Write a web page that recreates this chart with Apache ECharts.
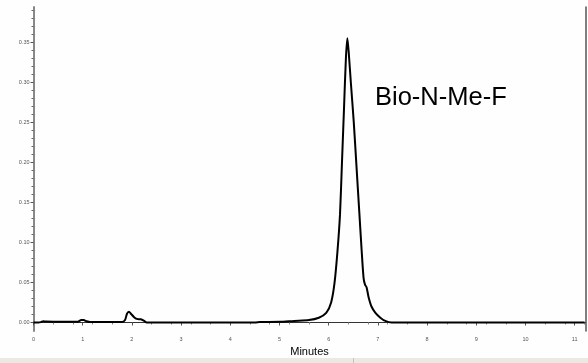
<!DOCTYPE html>
<html>
<head>
<meta charset="utf-8">
<script src="https://cdn.jsdelivr.net/npm/echarts@6/dist/echarts.min.js"></script>
<style>
  html, body { margin: 0; padding: 0; background: #fefefe; }
  #chart { width: 588px; height: 363px; }
</style>
</head>
<body>
<div id="chart"></div>
<script>
// Chromatogram trace: retention time (min) and detector response (AU)
const times = [
  0.00, 0.10, 0.15, 0.20, 0.25, 0.40, 0.90, 0.97, 1.02, 1.08, 1.15,
  1.80, 1.86, 1.90, 1.94, 1.98, 2.04, 2.10, 2.18, 2.25, 2.30,
  4.50, 4.60, 5.00, 5.30, 5.60, 5.80, 5.95, 6.05, 6.12, 6.18, 6.23,
  6.27, 6.31, 6.35, 6.38, 6.41, 6.45, 6.51, 6.57, 6.62, 6.67, 6.71,
  6.74, 6.77, 6.81, 6.87, 6.95, 7.05, 7.15, 7.28, 11.20
];
const response = [
  0.0000, 0.0000, 0.0005, 0.0015, 0.0012, 0.0010, 0.0010, 0.0030, 0.0030, 0.0015, 0.0005,
  0.0005, 0.0030, 0.0110, 0.0135, 0.0110, 0.0070, 0.0045, 0.0040, 0.0020, 0.0000,
  0.0000, 0.0005, 0.0008, 0.0020, 0.0030, 0.0060, 0.0120, 0.0250, 0.0500, 0.0900, 0.1350,
  0.2000, 0.2650, 0.3300, 0.3550, 0.3350, 0.3000, 0.2500, 0.1900, 0.1400, 0.0900, 0.0550,
  0.0470, 0.0440, 0.0320, 0.0200, 0.0120, 0.0060, 0.0020, 0.0000, 0.0000
];

// Axis tick positions
const xTicks = [0, 1, 2, 3, 4, 5, 6, 7, 8, 9, 10, 11];
const yMajorTicks = [0.00, 0.05, 0.10, 0.15, 0.20, 0.25, 0.30, 0.35];
const yMinorTicks = [
  0.01, 0.02, 0.03, 0.04, 0.06, 0.07, 0.08, 0.09, 0.11, 0.12, 0.13, 0.14,
  0.16, 0.17, 0.18, 0.19, 0.21, 0.22, 0.23, 0.24, 0.26, 0.27, 0.28, 0.29,
  0.31, 0.32, 0.33, 0.34, 0.36, 0.37, 0.38, 0.39
];
const peakName = 'Bio-N-Me-F';
const xName = 'Minutes';

const Y_MIN = -0.0106, Y_MAX = 0.394;
const X_MIN = 0, X_MAX = 11.22;

const chart = echarts.init(document.getElementById('chart'), null, { renderer: 'canvas' });

const tickFont = { fontSize: 5.5, color: '#555', fontFamily: 'Liberation Sans, Arial, sans-serif' };

chart.setOption({
  animation: false,
  backgroundColor: '#fefefe',
  grid: { left: 33.5, right: 2.5, top: 7, bottom: 32, containLabel: false },
  title: {
    text: peakName,
    left: 370,
    top: 80,
    textStyle: { fontSize: 25.5, fontWeight: 'normal', color: '#000', fontFamily: 'Liberation Sans, Arial, sans-serif' }
  },
  xAxis: {
    type: 'value',
    min: X_MIN,
    max: X_MAX,
    name: xName,
    nameLocation: 'middle',
    nameGap: 14,
    nameTextStyle: { fontSize: 11, color: '#000', fontFamily: 'Liberation Sans, Arial, sans-serif' },
    axisLine: { show: true, lineStyle: { color: '#333', width: 1 } },
    axisTick: { show: true, length: 3, lineStyle: { color: '#555' }, customValues: xTicks },
    minorTick: { show: true, splitNumber: 5, length: 2, lineStyle: { color: '#888' } },
    axisLabel: { margin: 5, customValues: xTicks, formatter: v => String(v), ...tickFont },
    splitLine: { show: false },
    minorSplitLine: { show: false }
  },
  yAxis: [
    {
      type: 'value',
      min: Y_MIN,
      max: Y_MAX,
      position: 'left',
      axisLine: { show: true, lineStyle: { color: '#888', width: 2 } },
      axisTick: { show: true, length: 3, lineStyle: { color: '#555' }, customValues: yMajorTicks },
      axisLabel: { margin: 4, customValues: yMajorTicks, formatter: v => v.toFixed(2), ...tickFont },
      splitLine: { show: false }
    },
    {
      type: 'value',
      min: Y_MIN,
      max: Y_MAX,
      position: 'left',
      axisLine: { show: false },
      axisTick: { show: true, length: 2, lineStyle: { color: '#666' }, customValues: yMinorTicks },
      axisLabel: { show: false },
      splitLine: { show: false }
    },
    {
      type: 'value',
      min: Y_MIN,
      max: Y_MAX,
      position: 'right',
      axisLine: { show: true, lineStyle: { color: '#555', width: 1.5 } },
      axisTick: { show: false },
      axisLabel: { show: false },
      splitLine: { show: false }
    }
  ],
  series: [{
    type: 'line',
    yAxisIndex: 0,
    data: times.map((t, i) => [t, response[i]]),
    showSymbol: false,
    smooth: 0.25,
    lineStyle: { color: '#000', width: 2 },
    clip: true
  }],
  graphic: [
    // status strip along the bottom of the window
    { type: 'rect', left: 0, top: 358, shape: { width: 588, height: 5 }, style: { fill: '#ece9e2' }, silent: true },
    { type: 'rect', left: 353, top: 358, shape: { width: 1, height: 5 }, style: { fill: '#c8c5bd' }, silent: true }
  ]
});
</script>
</body>
</html>
